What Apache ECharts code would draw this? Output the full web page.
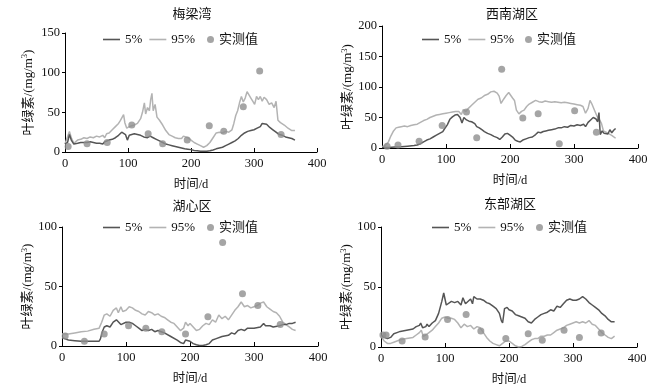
<!DOCTYPE html>
<html><head><meta charset="utf-8">
<script src="https://cdn.jsdelivr.net/npm/echarts@6/dist/echarts.min.js"></script>
<style>html,body{margin:0;padding:0;background:#fff}#c{width:662px;height:389px}</style>
</head><body><div id="c"></div>
<script>
// ---- data ----
const titles = ['梅梁湾', '西南湖区', '湖心区', '东部湖区'];
const yMax = [150, 200, 100, 100];
const yInterval = [50, 50, 50, 50];
const xTicks = [0, 100, 200, 300, 400];

const mlw5 = [[0,10],[4,12],[7,22],[10,15],[14,10],[20,11],[25,12],[30,12],[35,12],[40,13],[45,12],[50,11],[55,11],[60,10],[63,13],[66,14],[70,15],[75,16],[80,18],[85,21],[90,25],[93,27],[96,22],[99,15],[102,21],[106,22],[110,23],[115,22],[120,21],[125,19],[128,21],[131,18],[135,20],[140,18],[145,16],[150,14],[155,12],[160,10],[165,9],[170,8],[175,7],[180,6],[185,5],[190,4],[195,3.5],[200,3],[205,2],[210,1.5],[215,1],[220,1],[225,1],[230,1.5],[235,2.5],[240,4],[245,5],[250,6],[255,8],[260,10],[265,12],[270,14],[275,17],[280,21],[285,24],[290,26],[295,27],[300,28],[305,30],[310,32],[313,36],[316,38],[320,35],[325,31],[330,28],[335,25],[340,22],[345,21],[350,19],[355,18],[360,17],[365,15]];
const mlw95 = [[0,10],[3,12],[7,26],[10,18],[14,11],[20,15],[25,16],[30,18],[35,17],[40,19],[45,18],[50,20],[55,19],[60,21],[63,18],[66,23],[70,24],[75,28],[80,32],[85,36],[88,40],[91,42],[93,47],[95,37],[98,30],[102,32],[106,33],[110,34],[115,36],[120,42],[123,50],[126,62],[128,48],[131,56],[134,52],[136,66],[138,74],[140,52],[143,60],[146,44],[150,40],[155,34],[160,27],[165,22],[170,20],[175,18],[180,17],[185,17],[188,20],[191,22],[195,18],[200,15],[205,12],[210,10],[215,8],[220,6],[225,8],[230,12],[235,18],[240,24],[245,25],[250,24],[255,26],[260,25],[265,28],[268,36],[271,46],[274,52],[277,62],[280,70],[283,63],[286,68],[289,76],[292,72],[295,68],[298,64],[301,60],[304,70],[307,66],[310,70],[313,64],[316,69],[320,66],[324,60],[328,62],[332,56],[335,64],[338,40],[342,37],[348,34],[354,30],[360,27],[365,27]];
const mlwObs = [[5,7],[35,10.5],[67,12],[106,34],[132,23],[155,10.5],[194,15],[229,33],[252,26],[283,57],[309,102],[343,22]];

const xn5 = [[0,1],[10,1],[20,1.5],[30,2],[40,3],[50,4],[55,5],[60,7],[65,10],[70,13],[75,15],[80,18],[85,21],[90,24],[95,27],[98,32],[102,38],[106,47],[110,51],[114,54],[118,55],[122,50],[125,41],[128,50],[132,46],[136,44],[140,43],[145,40],[148,35],[152,33],[156,30],[160,27],[165,24],[170,22],[175,19],[180,17],[184,14],[188,18],[192,23],[196,24],[200,21],[204,18],[208,13],[212,11],[216,10],[220,13],[225,15],[230,17],[235,18],[240,22],[244,26],[248,25],[252,27],[256,28],[260,29],[265,30],[270,31],[275,33],[280,33],[285,35],[290,34],[295,37],[300,36],[305,38],[310,37],[315,39],[318,35],[322,42],[326,46],[330,50],[334,48],[337,43],[339,58],[341,22],[344,28],[347,24],[350,26],[353,23],[356,30],[359,25],[362,29],[365,32]];
const xn95 = [[0,2],[5,4],[10,10],[14,20],[18,28],[22,33],[26,34],[30,35],[35,36],[40,35],[45,37],[50,38],[55,39],[60,42],[65,45],[70,47],[75,50],[80,52],[85,54],[90,55],[95,56],[100,57],[105,58],[110,59],[115,60],[120,60],[124,55],[127,63],[131,60],[135,65],[140,70],[145,75],[150,80],[155,82],[160,86],[165,88],[170,92],[175,93],[180,90],[183,85],[186,73],[190,80],[194,86],[198,91],[201,94],[204,82],[207,78],[210,62],[214,56],[218,60],[222,62],[226,68],[230,72],[235,75],[240,78],[245,76],[250,75],[255,77],[260,76],[265,75],[270,76],[275,75],[280,74],[285,75],[290,74],[295,73],[300,72],[305,71],[310,70],[314,68],[318,57],[322,65],[325,78],[328,72],[332,62],[336,52],[340,46],[343,40],[346,28],[350,26],[355,23],[360,20],[365,16]];
const xnObs = [[8,3],[25,5],[58,11],[94,37],[132,59],[148,17],[187,129],[220,49],[244,56],[277,7],[301,61],[335,26]];

const hx5 = [[0,7],[5,6],[10,5],[20,4.5],[30,4],[40,4],[50,4],[58,4],[60,6],[63,12],[66,16],[70,17],[75,16],[80,20],[85,22],[88,23],[92,18],[100,20],[105,20],[110,19],[115,17],[120,15],[125,13],[130,14],[135,13],[140,14],[145,12],[150,13],[155,12],[160,11],[170,8],[180,5],[185,3],[190,2],[193,5],[200,4],[205,2],[210,1],[215,0.5],[220,0.5],[225,1],[230,2],[235,5],[240,6],[250,8],[260,9],[265,11],[270,10],[275,13],[280,14],[285,13],[290,15],[300,15],[310,16],[315,19],[318,17],[325,17],[330,16],[340,17],[345,18],[350,18],[355,19],[360,19],[365,20]];
const hx95 = [[0,10],[10,10],[20,11],[30,12],[40,12.5],[50,14],[58,15],[62,20],[66,26],[70,27],[75,25],[80,30],[85,32],[88,28],[92,33],[95,29],[100,30],[105,33],[110,32],[115,30],[120,29],[125,27],[130,26],[135,29],[140,28],[145,26],[150,27],[155,25],[160,24],[165,22],[170,20],[175,19],[180,16],[185,13],[190,15],[193,20],[197,17],[200,19],[205,16],[210,13],[215,14],[220,17],[225,19],[230,18],[235,22],[240,20],[245,26],[250,23],[255,25],[260,22],[265,26],[270,30],[275,33],[280,37],[285,33],[290,34],[295,32],[300,33],[305,34],[310,36],[315,37],[320,33],[325,31],[330,29],[335,28],[340,25],[345,20],[350,18],[355,16],[360,14],[365,13]];
const hxObs = [[5,8.5],[35,4],[66,10],[104,17],[131,15],[156,12],[193,10],[228,24.5],[251,87],[282,44],[306,34],[341,18]];

const db5 = [[0,10],[5,8],[10,7],[15,8],[20,11],[25,12],[30,13],[40,14],[50,15],[55,17],[60,18],[62,20],[65,16],[70,17],[72,19],[75,17],[80,20],[85,22],[90,28],[95,38],[98,45],[102,35],[105,36],[110,38],[115,37],[120,38],[125,35],[128,41],[132,36],[135,37],[140,40],[143,36],[145,42],[150,40],[155,40],[160,39],[165,37],[170,36],[175,34],[180,32],[185,28],[188,22],[190,20],[193,32],[197,33],[200,31],[205,30],[210,27],[215,26],[220,25],[225,24],[230,21],[235,20],[240,23],[245,25],[250,27],[255,28],[260,29],[265,31],[270,30],[275,34],[280,33],[285,36],[290,39],[295,40],[300,39],[305,39],[310,40],[315,42],[320,40],[325,37],[330,35],[335,33],[340,31],[345,28],[350,26],[355,23],[360,21],[365,21]];
const db95 = [[0,9],[5,5],[10,3],[15,3],[20,4],[30,6],[40,7],[50,8],[55,10],[60,12],[63,14],[66,9],[70,10],[75,12],[80,14],[85,17],[90,20],[95,24],[100,25],[105,24],[110,24],[115,23],[120,20],[125,16],[130,19],[135,17],[140,18],[145,15],[150,17],[155,16],[160,12],[165,8],[170,5],[175,3],[180,2],[185,1],[190,3],[195,5],[200,5],[205,3],[210,1],[215,0],[220,0.5],[225,2],[230,4],[235,6],[240,7],[245,7],[250,9],[255,9],[260,10],[265,10],[270,12],[275,14],[280,15],[285,16],[290,18],[295,19],[300,20],[305,21],[310,20],[315,21],[320,20],[325,22],[330,19],[335,18],[340,15],[345,12],[350,10],[355,8],[360,7],[365,9]];
const dbObs = [[3,10],[8,10],[33,5],[69,8.4],[104,23],[133,27],[156,13.4],[195,7],[230,11],[252,5.6],[286,14],[310,8],[344,11.7]];

const panels = [
  {s5: mlw5, s95: mlw95, obs: mlwObs},
  {s5: xn5, s95: xn95, obs: xnObs},
  {s5: hx5, s95: hx95, obs: hxObs},
  {s5: db5, s95: db95, obs: dbObs}
];

// ---- layout ----
const FONT = 'Liberation Serif, Times New Roman, Noto Sans CJK SC, serif';
const grids = [
  {left: 65, top: 33, width: 252, height: 119},
  {left: 382, top: 26, width: 256, height: 122},
  {left: 62, top: 227, width: 256, height: 119},
  {left: 381, top: 227, width: 256, height: 120}
];
const titlePos = [[192, 15], [512, 15], [192, 207], [510, 205]];
const legendPos = [[98, 33, 202], [417, 33, 520], [98, 221, 202], [427, 221, 531]];
const yNameGap = [29, 21, 23, 26];
const DARK = '#555555', LIGHT = '#b3b3b3', DOT = '#8f8f8f';

const option = {
  animation: false,
  backgroundColor: '#fff',
  textStyle: {fontFamily: FONT, color: '#111'},
  grid: [], xAxis: [], yAxis: [], series: [], legend: [], graphic: []
};

panels.forEach((p, i) => {
  option.grid.push(Object.assign({outerBoundsMode: 'none', containLabel: false}, grids[i]));
  option.xAxis.push({
    type: 'value', gridIndex: i, min: xTicks[0], max: xTicks[xTicks.length - 1], interval: 100,
    name: '时间/d', nameLocation: 'middle', nameGap: 26,
    nameTextStyle: {fontSize: 12.5, fontFamily: FONT, color: '#111'},
    axisLine: {lineStyle: {color: '#000', width: 1}},
    axisTick: {inside: true, length: 4, lineStyle: {color: '#000'}},
    axisLabel: {fontSize: 12.5, fontFamily: FONT, color: '#111', margin: 5},
    splitLine: {show: false}
  });
  option.yAxis.push({
    type: 'value', gridIndex: i, min: 0, max: yMax[i], interval: yInterval[i],
    name: '{n|叶绿素/(mg/m}{s|3}{n|)}', nameLocation: 'middle', nameGap: yNameGap[i],
    nameTextStyle: {
      rich: {
        n: {fontSize: 13, fontFamily: FONT, color: '#111', lineHeight: 15},
        s: {fontSize: 8.5, fontFamily: FONT, color: '#111', verticalAlign: 'top', lineHeight: 15}
      }
    },
    axisLine: {show: true, lineStyle: {color: '#000', width: 1}},
    axisTick: {show: true, inside: false, length: 3, lineStyle: {color: '#000'}},
    axisLabel: {fontSize: 12.5, fontFamily: FONT, color: '#111', margin: 5},
    splitLine: {show: false}
  });
  option.series.push({
    name: '5%', type: 'line', xAxisIndex: i, yAxisIndex: i, data: p.s5,
    showSymbol: false, symbol: 'none', lineStyle: {color: DARK, width: 1.5}, itemStyle: {color: DARK}, z: 3
  });
  option.series.push({
    name: '95%', type: 'line', xAxisIndex: i, yAxisIndex: i, data: p.s95,
    showSymbol: false, symbol: 'none', lineStyle: {color: LIGHT, width: 1.5}, itemStyle: {color: LIGHT}, z: 2
  });
  option.series.push({
    name: '实测值', type: 'scatter', xAxisIndex: i, yAxisIndex: i, data: p.obs,
    symbolSize: 7, itemStyle: {color: DOT}, z: 4
  });
  const lp = legendPos[i];
  option.legend.push({
    data: [
      {name: '5%', icon: 'rect', itemStyle: {color: DARK}},
      {name: '95%', icon: 'rect', itemStyle: {color: LIGHT}}
    ],
    left: lp[0], top: lp[1] - 5, itemWidth: 17, itemHeight: 1.6, itemGap: 7,
    textStyle: {fontSize: 13, fontFamily: FONT, color: '#111'}, selectedMode: false
  });
  option.legend.push({
    data: [{name: '实测值', icon: 'circle'}], left: lp[2], top: lp[1] - 5, itemWidth: 7, itemHeight: 7,
    textStyle: {fontSize: 13, fontFamily: FONT, color: '#111'}, selectedMode: false
  });
  option.graphic.push({
    type: 'text', x: titlePos[i][0], y: titlePos[i][1],
    style: {text: titles[i], font: '13px ' + FONT, fill: '#111', textAlign: 'center', textVerticalAlign: 'middle'}
  });
});

const chart = echarts.init(document.getElementById('c'), null, {renderer: 'canvas'});
chart.setOption(option);
</script>
</body></html>
